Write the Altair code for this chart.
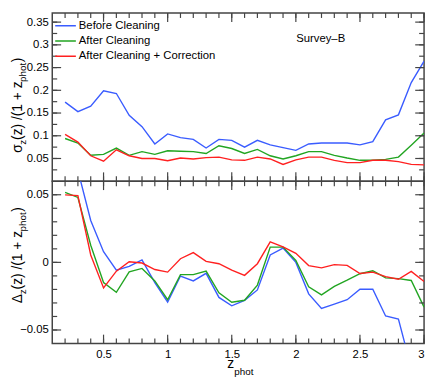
import altair as alt
import pandas as pd

# ---------------- data ----------------
z_phot = [0.2, 0.3, 0.4, 0.5, 0.6, 0.7, 0.8, 0.9, 1.0, 1.1, 1.2, 1.3, 1.4, 1.5,
          1.6, 1.7, 1.8, 1.9, 2.0, 2.1, 2.2, 2.3, 2.4, 2.5, 2.6, 2.7, 2.8, 2.9, 3.0]

series_names = ["Before Cleaning", "After Cleaning", "After Cleaning + Correction"]
series_colors = ["#3a5cff", "#22a522", "#ff2020"]

sigma_before = [0.174, 0.153, 0.165, 0.199, 0.193, 0.145, 0.120, 0.082, 0.104, 0.096,
                0.092, 0.073, 0.092, 0.090, 0.075, 0.090, 0.080, 0.074, 0.068, 0.082,
                0.084, 0.084, 0.084, 0.080, 0.087, 0.135, 0.146, 0.217, 0.264]
sigma_after = [0.094, 0.084, 0.057, 0.059, 0.073, 0.057, 0.065, 0.059, 0.067, 0.066,
               0.065, 0.061, 0.078, 0.072, 0.061, 0.070, 0.056, 0.049, 0.056, 0.065,
               0.065, 0.057, 0.051, 0.046, 0.046, 0.048, 0.053, 0.079, 0.106]
sigma_corr = [0.103, 0.086, 0.056, 0.044, 0.069, 0.056, 0.050, 0.050, 0.045, 0.051,
              0.049, 0.052, 0.053, 0.047, 0.046, 0.053, 0.049, 0.037, 0.047, 0.053,
              0.053, 0.046, 0.041, 0.041, 0.046, 0.046, 0.043, 0.037, 0.036]

delta_before = [0.070, 0.068, 0.031, 0.0079, -0.0058, -0.0029, 0.0019, -0.0149, -0.0293, -0.0101,
                -0.0137, -0.0081, -0.0259, -0.0321, -0.0281, -0.0204, 0.0055, 0.0106, 0.0, -0.0233,
                -0.0341, -0.0309, -0.0276, -0.0199, -0.0199, -0.0396, -0.0420, -0.078, -0.080]
delta_after = [0.0518, 0.048, 0.0127, -0.0149, -0.0221, -0.0070, -0.0045, -0.0137, -0.0276, -0.0091,
               -0.0091, -0.0065, -0.0225, -0.0295, -0.0280, -0.0168, 0.0113, 0.0113, 0.0014, -0.0180,
               -0.0240, -0.0177, -0.0132, -0.0084, -0.0062, -0.0115, -0.0120, -0.0134, -0.0331]
delta_corr = [0.0499, 0.0494, 0.0055, -0.0189, -0.0065, 0.0005, -0.0005, -0.0053, -0.0072, 0.0027,
              0.0072, 0.0007, -0.0010, -0.0058, -0.0096, -0.0010, 0.0151, 0.0115, 0.0067, -0.0024,
              -0.0041, -0.0017, -0.0022, -0.0082, -0.0072, -0.0106, -0.0125, -0.0067, -0.0142]

x_major = [0.5, 1.0, 1.5, 2.0, 2.5, 3.0]
x_minor = [round(0.2 + 0.1 * i, 1) for i in range(29)]
top_major = [0.05, 0.1, 0.15, 0.2, 0.25, 0.3, 0.35]
top_minor = [round(0.025 * i, 3) for i in range(1, 15)]
bot_major = [-0.05, 0.0, 0.05]
bot_minor = [round(-0.05 + 0.01 * i, 2) for i in range(11)]

# ---------------- style ----------------
FONT = "Liberation Sans"
W = 378
H_TOP = 171
H_BOT = 165
FRAME = "#444444"
MAJ, MIN = 9, 5
x_scale = alt.Scale(domain=[0.1, 3.0], nice=False, zero=False)


def long_df(vals):
    rows = []
    for name, v in zip(series_names, vals):
        for z, y in zip(z_phot, v):
            rows.append({"z": z, "v": y, "series": name})
    return pd.DataFrame(rows)


def lab_axis(orient, vals, pad=4):
    return alt.Axis(orient=orient, values=vals, format="~g", ticks=False, domain=False,
                    grid=False, title=None, labelFont=FONT, labelFontSize=11.5,
                    labelColor="black", labelPadding=pad)


def tick_rules(y_scale, h, x_ax, y_ax, ymaj, ymin):
    """Inward ticks on all four sides, placed through the shared scales."""
    layers = []
    for vals, ln in ((x_major, MAJ), (x_minor, MIN)):
        d = pd.DataFrame({"z": vals})
        for y0, y1 in ((h, h - ln), (0, ln)):
            layers.append(alt.Chart(d).mark_rule(color=FRAME, strokeWidth=1.2).encode(
                x=alt.X("z:Q", scale=x_scale, axis=x_ax),
                y=alt.value(y0), y2=alt.value(y1)))
    for vals, ln in ((ymaj, MAJ), (ymin, MIN)):
        d = pd.DataFrame({"v": vals})
        for x0, x1 in ((0, ln), (W, W - ln)):
            layers.append(alt.Chart(d).mark_rule(color=FRAME, strokeWidth=1.2).encode(
                y=alt.Y("v:Q", scale=y_scale, axis=y_ax),
                x=alt.value(x0), x2=alt.value(x1)))
    return layers


one = pd.DataFrame({"a": [0]})


def txt(s, x, y, size, angle=0):
    kw = dict(text=s, font=FONT, fontSize=size, align="left", baseline="alphabetic", color="black")
    if angle:
        kw["angle"] = angle
    return alt.Chart(one).mark_text(**kw).encode(x=alt.value(x), y=alt.value(y))


color_scale = alt.Scale(domain=series_names, range=series_colors)

# ---------------- top panel ----------------
df_top = long_df([sigma_before, sigma_after, sigma_corr])
top_y = alt.Scale(domain=[0, 0.37], nice=False, zero=False)
top_y_ax = lab_axis("left", top_major)
top_lines = alt.Chart(df_top).mark_line(clip=True, strokeWidth=1.4).encode(
    x=alt.X("z:Q", scale=x_scale, axis=None),
    y=alt.Y("v:Q", scale=top_y, axis=top_y_ax),
    color=alt.Color("series:N", scale=color_scale, sort=series_names,
                    legend=alt.Legend(orient="none", legendX=2, legendY=6, title=None,
                                      symbolType="stroke", symbolSize=441, symbolStrokeWidth=1.6,
                                      labelFont=FONT, labelFontSize=11.5, labelColor="black",
                                      labelLimit=0, clipHeight=14, rowPadding=1.5, padding=0,
                                      labelOffset=2, direction="vertical")),
)
top_title = [
    txt("σ", -31, 142, 14, 270),
    txt("z", -27, 134, 10, 270),
    txt("(z) /(1 + z", -31, 129, 14, 270),
    txt("phot", -27, 70, 10, 270),
    txt(")", -31, 50, 14, 270),
    txt("Survey–B", 248, 29, 11.5),
]
top = alt.layer(top_lines, *tick_rules(top_y, H_TOP, None, top_y_ax, top_major, top_minor),
                *top_title).properties(width=W, height=H_TOP)

# ---------------- bottom panel ----------------
df_bot = long_df([delta_before, delta_after, delta_corr])
bot_y = alt.Scale(domain=[-0.06, 0.06], nice=False, zero=False)
bot_x_ax = lab_axis("bottom", x_major, pad=5)
bot_y_ax = lab_axis("left", bot_major)
bot_lines = alt.Chart(df_bot).mark_line(clip=True, strokeWidth=1.4).encode(
    x=alt.X("z:Q", scale=x_scale, axis=bot_x_ax),
    y=alt.Y("v:Q", scale=bot_y, axis=bot_y_ax),
    color=alt.Color("series:N", scale=color_scale, sort=series_names, legend=None),
)
bot_title = [
    txt("Δ", -31, 124, 14, 270),
    txt("z", -27, 115, 10, 270),
    txt("(z) /(1 + z", -31, 110, 14, 270),
    txt("phot", -27, 51, 10, 270),
    txt(")", -31, 31, 14, 270),
    txt("z", 178, 190, 14),
    txt("phot", 185, 197, 10),
]
bottom = alt.layer(bot_lines, *tick_rules(bot_y, H_BOT, bot_x_ax, bot_y_ax, bot_major, bot_minor),
                   *bot_title).properties(width=W, height=H_BOT)

chart = alt.vconcat(top, bottom, spacing=0, bounds="flush").resolve_scale(
    color="independent").configure_view(stroke=FRAME, strokeWidth=1.5).properties(
    padding={"left": 2, "top": 0, "right": 2, "bottom": 0})

chart.save("out.html", embed_options={"renderer": "svg", "actions": False})
